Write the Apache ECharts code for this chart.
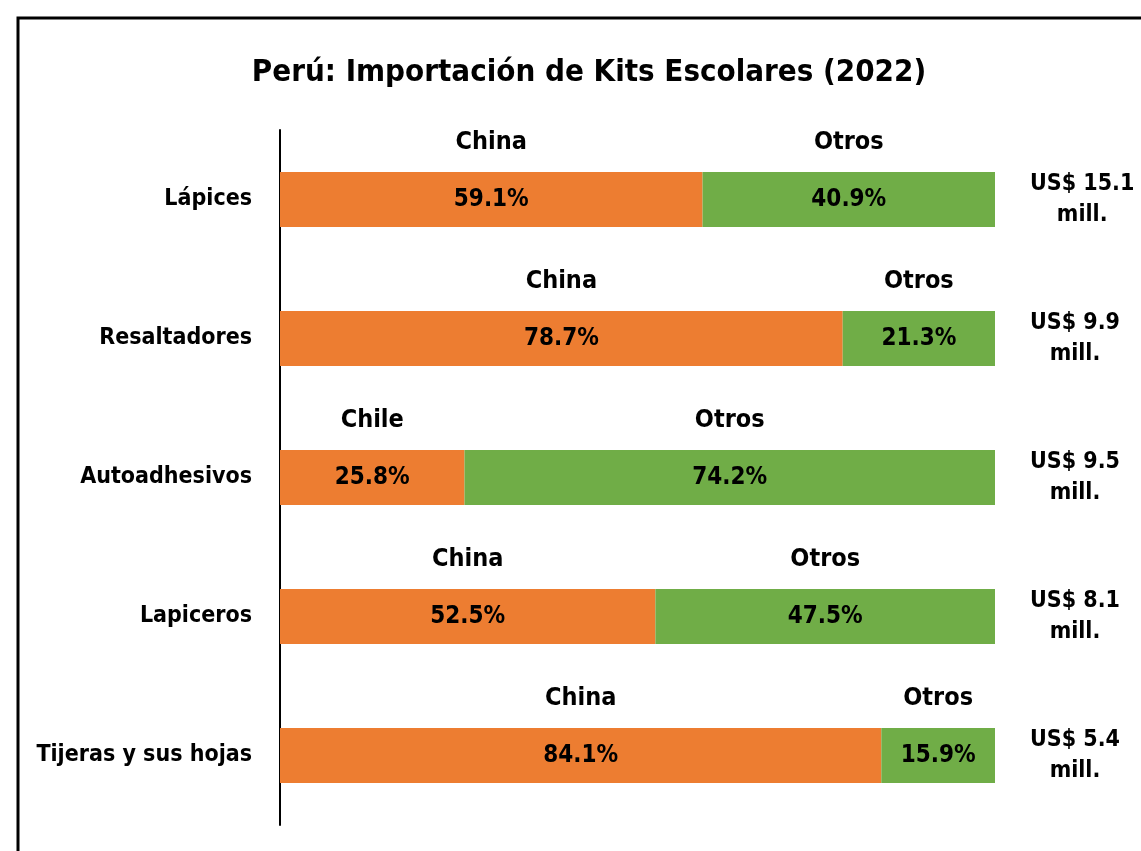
<!DOCTYPE html>
<html>
<head>
<meta charset="utf-8">
<script src="https://cdn.jsdelivr.net/npm/echarts@6/dist/echarts.min.js"></script>
<style>
  html, body { margin: 0; padding: 0; background: #fff; }
  #main { width: 1141px; height: 851px; }
</style>
</head>
<body>
<div id="main"></div>
<script>
var productos = ['Lápices', 'Resaltadores', 'Autoadhesivos', 'Lapiceros', 'Tijeras y sus hojas'];
var paisPrincipal = ['China', 'China', 'Chile', 'China', 'China'];
var partePrincipal = [59.1, 78.7, 25.8, 52.5, 84.1];
var parteOtros = [40.9, 21.3, 74.2, 47.5, 15.9];
var totalMill = [15.1, 9.9, 9.5, 8.1, 5.4];

var FONT = '"Liberation Sans Narrow", "DejaVu Sans Condensed", "Liberation Sans", sans-serif';
var chart = echarts.init(document.getElementById('main'));

function barLabel(paises) {
  return {
    show: true,
    position: 'inside',
    fontFamily: FONT,
    formatter: function (p) {
      return '{c|' + paises[p.dataIndex] + '}\n{p|' + p.value.toFixed(1) + '%}\n{e| }';
    },
    rich: {
      c: { fontFamily: FONT, fontSize: 25, fontWeight: 'bold', color: '#000', lineHeight: 57 },
      p: { fontFamily: FONT, fontSize: 24, fontWeight: 'bold', color: '#000', lineHeight: 57 },
      e: { fontSize: 10, lineHeight: 57 }
    }
  };
}

var option = {
  animation: false,
  title: {
    text: 'Perú: Importación de Kits Escolares (2022)',
    left: 584,
    top: 52,
    textAlign: 'center',
    textStyle: { fontFamily: FONT, fontSize: 31, fontWeight: 'bold', color: '#000' }
  },
  graphic: [{
    type: 'rect',
    shape: { x: 18, y: 18, width: 1300, height: 1000 },
    style: { fill: 'none', stroke: '#000', lineWidth: 3 },
    silent: true
  }],
  grid: { left: 280, right: 146, top: 130, bottom: 26 },
  xAxis: { type: 'value', min: 0, max: 100, show: false },
  yAxis: [{
    type: 'category',
    data: productos,
    inverse: true,
    axisLine: { show: true, lineStyle: { color: '#000', width: 2 } },
    axisTick: { show: false },
    axisLabel: { margin: 28, fontFamily: FONT, fontSize: 23, fontWeight: 'bold', color: '#000' }
  }, {
    type: 'category',
    data: productos,
    inverse: true,
    position: 'right',
    axisLine: { show: false },
    axisTick: { show: false },
    axisLabel: {
      margin: 35,
      align: 'left',
      formatter: function (v, i) {
        return '{a|US$ ' + totalMill[i].toFixed(1) + '}\n{a|mill.}';
      },
      rich: {
        a: { align: 'center', fontFamily: FONT, fontSize: 23, fontWeight: 'bold', color: '#000', lineHeight: 31 }
      }
    }
  }],
  series: [{
    name: 'Principal',
    type: 'bar',
    stack: 'total',
    barWidth: 55,
    data: partePrincipal,
    itemStyle: { color: '#ED7D31' },
    label: barLabel(paisPrincipal)
  }, {
    name: 'Otros',
    type: 'bar',
    stack: 'total',
    barWidth: 55,
    data: parteOtros,
    itemStyle: { color: '#70AD47' },
    label: barLabel(productos.map(function () { return 'Otros'; }))
  }]
};

chart.setOption(option);
</script>
</body>
</html>
